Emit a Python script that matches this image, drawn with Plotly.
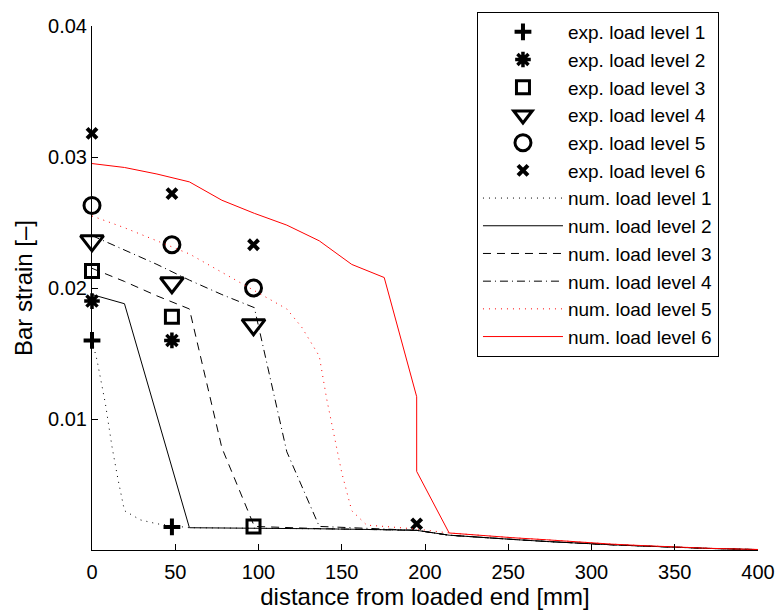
import plotly.graph_objects as go

# ---------------- data ----------------
exp_x = [0, 48, 97, 195]
exp1 = [0.0160, 0.00176]
exp2 = [0.0190, 0.0160]
exp3 = [0.0213, 0.0178, 0.0018]
exp4 = [0.0236, 0.0204, 0.0172]
exp5 = [0.0263, 0.0233, 0.0200]
exp6 = [0.0318, 0.0272, 0.0233, 0.0020]

tail_x = [214.5, 234, 253.5, 273, 292.5, 312, 331.5, 351, 370.5, 390, 400]
tail_black = [0.00113, 0.00095, 0.0008, 0.00065, 0.0005, 0.0004, 0.0003, 0.0002, 0.00012, 0.00006, 0.00003]
tail_red = [0.0013, 0.0011, 0.00093, 0.00078, 0.0006, 0.00045, 0.00033, 0.00022, 0.00013, 0.00007, 0.00004]

num1_x = [0, 3, 8, 12, 15.6, 19.5, 29, 39, 58.5, 97.5, 136.5, 175.5, 195]
num1_y = [0.0160, 0.0145, 0.0112, 0.0079, 0.0054, 0.0030, 0.0023, 0.0020, 0.0017, 0.00168, 0.00162, 0.00155, 0.0015]

num2_x = [0, 19.5, 58.5, 97.5, 136.5, 175.5, 195]
num2_y = [0.0195, 0.0188, 0.0017, 0.00168, 0.00162, 0.00155, 0.0015]

num3_x = [0, 19.5, 39, 58.5, 78, 97.5, 136.5, 175.5, 195]
num3_y = [0.0215, 0.0205, 0.0194, 0.0184, 0.0078, 0.0018, 0.00163, 0.00156, 0.0015]

num4_x = [0, 19.5, 39, 58.5, 78, 97.5, 117, 136.5, 175.5, 195]
num4_y = [0.0240, 0.0229, 0.0218, 0.0206, 0.0195, 0.0185, 0.0075, 0.0018, 0.00157, 0.0015]

num5_x = [0, 19.5, 39, 58.5, 78, 97.5, 117, 126, 136.5, 141, 146, 150, 156, 165, 175.5, 195]
num5_y = [0.0255, 0.0246, 0.0236, 0.0226, 0.0212, 0.0198, 0.0184, 0.0170, 0.0148, 0.0115, 0.0084, 0.0059, 0.0030, 0.0019, 0.0018, 0.0016]

num6_x = [0, 19.5, 39, 58.5, 78, 97.5, 117, 136.5, 156, 175.5, 195, 195]
num6_y = [0.0295, 0.0292, 0.0287, 0.0281, 0.0267, 0.0257, 0.0248, 0.0236, 0.0218, 0.0208, 0.0117, 0.0060]

x_ticks = [0, 50, 100, 150, 200, 250, 300, 350, 400]
y_ticks = [0.01, 0.02, 0.03, 0.04]
y_tick_text = ["0.01", "0.02", "0.03", "0.04"]

# ---------------- figure ----------------
FONT = "Liberation Sans, Arial, sans-serif"
fig = go.Figure()

markers = [
    ("exp. load level 1", exp1, dict(symbol="cross-thin-open", size=12, line=dict(width=4, color="black"))),
    ("exp. load level 2", exp2, dict(symbol="asterisk-open", size=13, line=dict(width=3.5, color="black"))),
    ("exp. load level 3", exp3, dict(symbol="square-open", size=13, line=dict(width=3, color="black"))),
    ("exp. load level 4", exp4, dict(symbol="triangle-down-open", size=20, line=dict(width=3, color="black"))),
    ("exp. load level 5", exp5, dict(symbol="circle-open", size=16, line=dict(width=3, color="black"))),
    ("exp. load level 6", exp6, dict(symbol="x-thin-open", size=10, line=dict(width=4, color="black"))),
]
for name, ys, mk in markers:
    fig.add_trace(go.Scatter(x=exp_x[:len(ys)], y=ys, mode="markers", name=name, cliponaxis=False,
                             marker=dict(color="black", **mk)))

lines = [
    ("num. load level 1", num1_x + tail_x, num1_y + tail_black, "black", "1px,5px"),
    ("num. load level 2", num2_x + tail_x, num2_y + tail_black, "black", "solid"),
    ("num. load level 3", num3_x + tail_x, num3_y + tail_black, "black", "8px,6px"),
    ("num. load level 4", num4_x + tail_x, num4_y + tail_black, "black", "8px,4px,1px,4px"),
    ("num. load level 5", num5_x + tail_x, num5_y + tail_red, "red", "1px,5px"),
    ("num. load level 6", num6_x + tail_x, num6_y + tail_red, "red", "solid"),
]
for name, xs, ys, col, dash in lines:
    fig.add_trace(go.Scatter(x=xs, y=ys, mode="lines", name=name,
                             line=dict(color=col, width=1, dash=dash)))

fig.update_layout(
    width=777, height=610,
    margin=dict(l=92, r=19, t=26, b=60, autoexpand=False),
    paper_bgcolor="white", plot_bgcolor="white",
    font=dict(family=FONT, size=19, color="black"),
    showlegend=True,
    legend=dict(x=0.9414, xanchor="right", y=1.0267, yanchor="top",
                bgcolor="white", bordercolor="black", borderwidth=1,
                font=dict(family=FONT, size=19, color="black"),
                itemwidth=80, maxheight=600),
    xaxis=dict(range=[0, 400], tickvals=x_ticks, ticks="inside", ticklen=6,
               tickcolor="black", showline=True, linecolor="black", linewidth=1,
               showgrid=False, zeroline=False, mirror=False, ticklabelstandoff=4,
               automargin=False,
               tickfont=dict(family=FONT, size=20),
               title=dict(text="distance from loaded end [mm]", font=dict(family=FONT, size=24), standoff=8)),
    yaxis=dict(range=[0, 0.04], tickvals=y_ticks, ticktext=y_tick_text, ticks="inside", ticklen=6,
               tickcolor="black", showline=True, linecolor="black", linewidth=1,
               showgrid=False, zeroline=False, mirror=False, automargin=False,
               tickfont=dict(family=FONT, size=20),
               title=dict(text="Bar strain [–]", font=dict(family=FONT, size=24), standoff=8)),
)

fig.write_html("out.html")
